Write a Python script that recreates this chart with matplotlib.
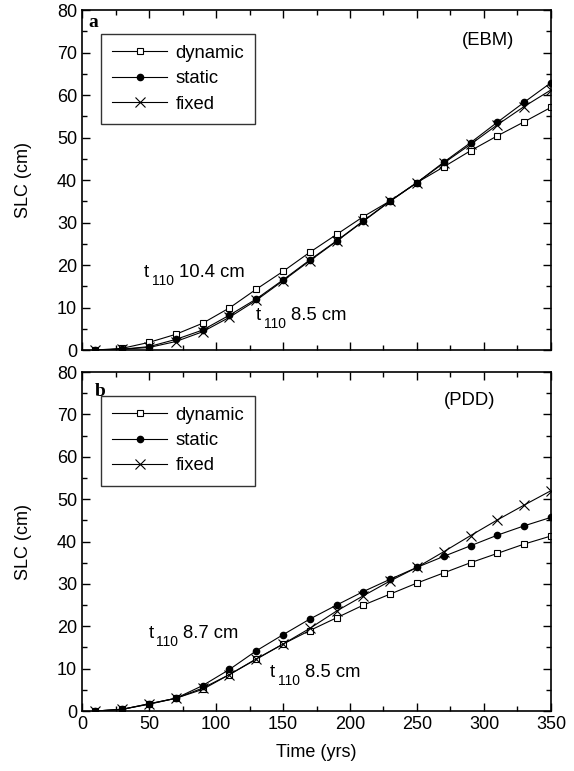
import matplotlib
matplotlib.use("Agg")
import matplotlib.pyplot as plt
from matplotlib.ticker import MultipleLocator

plt.rcParams["font.family"] = ["Liberation Sans", "DejaVu Sans"]

years = [10, 30, 50, 70, 90, 110, 130, 150, 170, 190, 210, 230, 250, 270, 290, 310, 330, 350]

# (a) EBM
ebm_dynamic = [0, 0.4, 1.8, 3.7, 6.3, 9.9, 14.3, 18.5, 23.0, 27.2, 31.4, 35.1, 39.4, 43.1, 46.9, 50.4, 53.7, 57.1]
ebm_static = [0, 0.2, 0.8, 2.5, 4.7, 8.2, 12.0, 16.5, 21.2, 25.7, 30.4, 35.1, 39.4, 44.2, 48.8, 53.6, 58.3, 62.9]
ebm_fixed = [0, 0.2, 0.6, 2.0, 4.3, 7.7, 11.7, 16.3, 21.0, 25.6, 30.3, 35.0, 39.4, 44.0, 48.4, 53.0, 57.3, 61.2]

# (b) PDD
pdd_dynamic = [0, 0.4, 1.7, 3.0, 5.1, 8.6, 12.2, 15.8, 19.0, 22.0, 25.0, 27.6, 30.2, 32.6, 35.0, 37.2, 39.4, 41.3]
pdd_static = [0, 0.4, 1.7, 3.0, 6.0, 9.8, 14.2, 18.0, 21.7, 25.0, 28.2, 31.1, 33.9, 36.5, 39.0, 41.5, 43.7, 45.7]
pdd_fixed = [0, 0.4, 1.6, 3.0, 5.4, 8.6, 12.3, 15.8, 19.5, 23.6, 27.2, 30.7, 33.9, 37.6, 41.4, 45.1, 48.6, 52.0]

panels = [
    ("a", "(EBM)", ebm_dynamic, ebm_static, ebm_fixed,
     [(46, 17.2, "10.4 cm"), (130, 7.1, "8.5 cm")], (303, 71.8), (4.5, 76)),
    ("b", "(PDD)", pdd_dynamic, pdd_static, pdd_fixed,
     [(49.5, 17.2, "8.7 cm"), (140, 8.0, "8.5 cm")], (289.6, 72.2), (9.7, 74.3)),
]

fig = plt.figure(figsize=(5.74, 7.71), dpi=100)
ax_top = fig.add_axes([0.1429, 0.546, 0.817, 0.441])
ax_bot = fig.add_axes([0.1429, 0.0778, 0.817, 0.4397])

fs = 13.3
for ax, (tag, model, dyn, sta, fix, notes, model_pos, tag_pos) in zip([ax_top, ax_bot], panels):
    ax.plot(years, dyn, color="black", lw=0.8, marker="s", ms=4.5,
            mfc="white", mec="black", mew=0.8, label="dynamic")
    ax.plot(years, sta, color="black", lw=0.8, marker="o", ms=4.5,
            mfc="black", mec="black", label="static")
    ax.plot(years, fix, color="black", lw=0.8, marker="x", ms=7,
            mew=0.8, label="fixed")

    ax.set_xlim(0, 350)
    ax.set_ylim(0, 80)
    ax.xaxis.set_major_locator(MultipleLocator(50))
    ax.xaxis.set_minor_locator(MultipleLocator(25))
    ax.yaxis.set_major_locator(MultipleLocator(10))
    ax.yaxis.set_minor_locator(MultipleLocator(5))
    ax.tick_params(which="both", direction="in", top=True, right=True, labelsize=13)
    ax.tick_params(which="major", length=6, width=1)
    ax.tick_params(which="minor", length=3.5, width=1)
    for sp in ax.spines.values():
        sp.set_linewidth(1.2)
    ax.set_ylabel("SLC (cm)", fontsize=13, labelpad=18)

    # t_110 notes: "t", lowered small "110", then the value
    for x, y, s in notes:
        ax.text(x, y, "t", fontsize=fs, ha="left", va="baseline")
        ax.annotate("110", xy=(x, y), xytext=(8, -8), textcoords="offset pixels",
                    fontsize=10, ha="left", va="baseline")
        ax.annotate(s, xy=(x, y), xytext=(35, 0), textcoords="offset pixels",
                    fontsize=fs, ha="left", va="baseline")
    ax.text(model_pos[0], model_pos[1], model, fontsize=fs, ha="center", va="baseline")
    ax.text(tag_pos[0], tag_pos[1], tag, fontsize=14, fontweight="bold",
            family="Liberation Serif", ha="left", va="baseline")

    leg = ax.legend(loc="upper left", bbox_to_anchor=(0.04, 0.93), borderaxespad=0,
                    fontsize=fs, frameon=True, fancybox=False, handlelength=3.0,
                    labelspacing=0.45, borderpad=0.6, handletextpad=0.45)
    leg.get_frame().set_edgecolor("black")
    leg.get_frame().set_linewidth(1.0)

ax_top.tick_params(labelbottom=False)
ax_bot.set_xlabel("Time (yrs)", fontsize=13, labelpad=8)

fig.savefig("out.png", dpi=100)
